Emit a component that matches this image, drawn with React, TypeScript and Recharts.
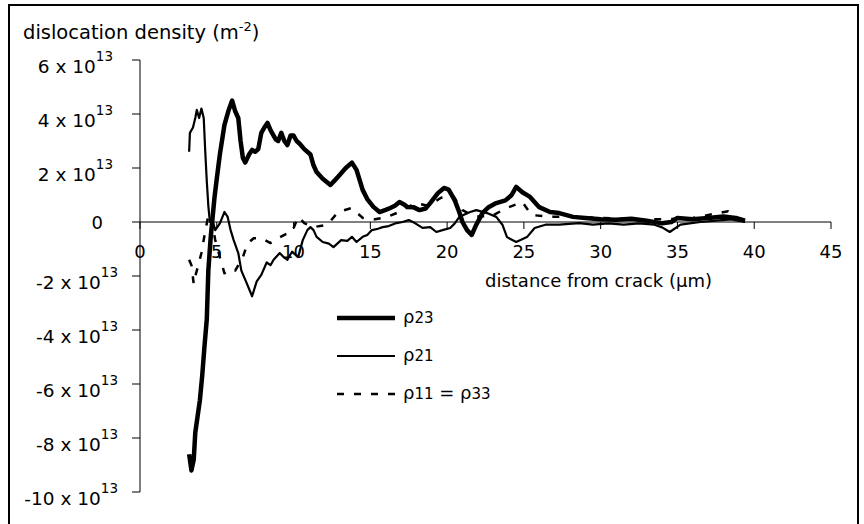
import React from 'react';
import { LineChart, Line, XAxis, YAxis, ReferenceLine, ReferenceDot } from 'recharts';

// distance from crack (µm), dislocation density (×10^13 m^-2)
const rho23: [number, number][] = [
  [3.2, -8.6], [3.35, -9.2], [3.5, -8.8], [3.6, -7.8], [3.75, -7.2], [3.9, -6.6], [4.05, -5.7],
  [4.2, -4.6], [4.35, -3.6], [4.45, -1.8], [4.6, -0.6], [4.7, 0], [4.85, 0.9], [5.0, 1.6],
  [5.2, 2.5], [5.5, 3.6], [5.75, 4.1], [6.0, 4.5], [6.2, 4.1], [6.4, 3.85], [6.55, 3.0],
  [6.7, 2.37], [6.85, 2.2], [7.1, 2.5], [7.3, 2.67], [7.5, 2.6], [7.7, 2.7], [7.9, 3.3],
  [8.1, 3.5], [8.3, 3.67], [8.5, 3.4], [8.7, 3.2], [8.85, 3.05], [9.0, 3.0], [9.2, 3.3],
  [9.4, 3.0], [9.6, 2.85], [9.8, 3.2], [10.0, 3.2], [10.2, 3.0], [10.4, 2.9], [10.7, 2.7],
  [11.1, 2.5], [11.3, 2.1], [11.5, 1.85], [11.9, 1.6], [12.4, 1.37], [12.7, 1.55], [13.0, 1.74],
  [13.4, 2.0], [13.8, 2.2], [14.1, 1.93], [14.5, 1.19], [14.8, 0.85], [15.2, 0.56], [15.6, 0.37],
  [16.0, 0.45], [16.3, 0.52], [16.6, 0.6], [16.9, 0.74], [17.2, 0.65], [17.4, 0.56], [17.8, 0.55],
  [18.2, 0.44], [18.6, 0.5], [18.9, 0.7], [19.4, 1.07], [19.8, 1.26], [20.1, 1.2], [20.5, 0.8],
  [20.8, 0.35], [21.0, 0], [21.3, -0.3], [21.6, -0.48], [21.9, -0.1], [22.3, 0.33], [22.7, 0.55],
  [23.2, 0.7], [23.8, 0.8], [24.2, 1.0], [24.5, 1.3], [24.9, 1.1], [25.4, 0.93], [26.0, 0.55],
  [26.7, 0.37], [27.3, 0.33], [28.2, 0.19], [29, 0.15], [30, 0.1], [31, 0.08], [32, 0.12],
  [33, 0.05], [34, -0.05], [34.6, 0.0], [35, 0.15], [36, 0.1], [37, 0.15], [38, 0.2],
  [38.8, 0.15], [39.4, 0.05],
];

const rho21: [number, number][] = [
  [3.2, 2.6], [3.25, 3.3], [3.45, 3.5], [3.6, 3.85], [3.7, 4.15], [3.85, 3.85], [4.0, 4.2],
  [4.15, 3.85], [4.25, 2.6], [4.35, 1.5], [4.45, 0.6], [4.55, 0.0], [4.7, 0.1], [4.9, -0.3],
  [5.2, -0.05], [5.5, 0.37], [5.7, 0.2], [5.9, -0.3], [6.1, -0.67], [6.4, -1.15], [6.6, -1.8],
  [6.9, -2.2], [7.3, -2.75], [7.6, -2.2], [7.9, -1.96], [8.25, -1.5], [8.5, -1.6], [8.7, -1.4],
  [9.1, -1.15], [9.35, -1.3], [9.6, -1.4], [9.9, -1.1], [10.3, -1.3], [10.6, -0.67], [10.9, -0.3],
  [11.1, -0.19], [11.3, -0.3], [11.5, -0.55], [11.9, -0.74], [12.3, -0.8], [12.6, -0.93],
  [13.1, -0.67], [13.5, -0.7], [13.8, -0.55], [14.1, -0.74], [14.5, -0.55], [14.8, -0.48],
  [15.1, -0.3], [15.5, -0.25], [15.8, -0.19], [16.2, -0.15], [16.7, -0.04], [17.1, 0.0],
  [17.5, 0.07], [17.9, -0.04], [18.4, -0.22], [18.9, -0.19], [19.3, -0.37], [19.7, -0.3],
  [20.2, -0.22], [20.5, -0.05], [20.8, 0.19], [21.5, 0.37], [21.9, 0.44], [22.6, 0.33],
  [23.2, 0.19], [23.6, -0.1], [23.9, -0.56], [24.5, -0.74], [25.2, -0.56], [25.7, -0.22],
  [26.4, -0.1], [27.3, -0.1], [28.6, -0.04], [29.5, -0.1], [30.5, -0.05], [31.5, -0.1],
  [32.5, -0.05], [33.5, -0.1], [34.0, -0.2], [34.5, -0.37], [35.2, -0.1], [36.5, 0.0],
  [37.5, 0.05], [38.5, 0.1], [39.4, 0.0],
];

const rho11: [number, number][] = [
  [3.2, -1.4], [3.35, -1.6], [3.5, -2.3], [3.65, -1.9], [3.8, -1.6], [4.0, -1.15], [4.2, -0.5],
  [4.4, 0.1], [4.6, 0.3], [4.9, -0.67], [5.2, -1.3], [5.5, -1.9], [5.9, -1.75], [6.2, -1.8],
  [6.7, -1.3], [7.0, -0.8], [7.4, -0.6], [7.9, -0.6], [8.5, -0.78], [9.0, -0.6], [9.5, -0.45],
  [9.9, -0.37], [10.3, 0.19], [10.7, -0.04], [11.3, -0.19], [12.2, -0.1], [12.9, 0.37],
  [13.8, 0.52], [14.5, 0.15], [15.3, 0.1], [16.1, 0.19], [17.0, 0.4], [17.9, 0.7], [18.8, 0.6],
  [19.6, 0.9], [20.4, 0.96], [21.0, 0.44], [21.8, 0.2], [22.9, 0.22], [23.8, 0.5], [24.9, 0.74],
  [25.5, 0.26], [26.7, 0.19], [28, 0.2], [30, 0.15], [32, 0.1], [34, 0.1], [36, 0.15],
  [38.3, 0.4], [39.0, 0.1],
];

const xTicks = [0, 5, 10, 15, 20, 25, 30, 35, 40, 45];
const yTicks = [-10, -8, -6, -4, -2, 0, 2, 4, 6];

const FONT = '"DejaVu Sans", sans-serif';

const toData = (pts: [number, number][]) => pts.map(([x, y]) => ({ x, y }));

const series = [
  { key: 'rho23', label: ['ρ', '23'], data: toData(rho23), width: 4.5, dash: undefined as string | undefined },
  { key: 'rho21', label: ['ρ', '21'], data: toData(rho21), width: 2.2, dash: undefined as string | undefined },
  { key: 'rho11', label: ['ρ', '11', ' = ', 'ρ', '33'], data: toData(rho11), width: 2.5, dash: '7 10' },
];

const YTick = (props: any) => {
  const { x, y, payload } = props;
  const v = payload.value;
  if (v === 0) {
    return (
      <text x={x - 15} y={y + 6.5} textAnchor="end" fontSize={18} fontFamily={FONT} fill="#000">0</text>
    );
  }
  const end = v > 0 ? x - 5 : x;
  return (
    <text x={end} y={y + 12.5} textAnchor="end" fontSize={18.5} fontFamily={FONT} fill="#000">
      <tspan>{`${v} x 10`}</tspan>
      <tspan dy={-12} fontSize={13.5}>13</tspan>
    </text>
  );
};

const makeXTick = (v: number) => (p: any) => {
  const { cx, cy } = p;
  return (
    <g>
      <line x1={cx} y1={cy} x2={cx} y2={cy + 7} stroke="#000" strokeWidth={1} />
      <text x={cx} y={cy + 36} textAnchor="middle" fontSize={18} fontFamily={FONT} fill="#000">{v}</text>
    </g>
  );
};

const LegendBox = () => (
  <svg width={220} height={110} style={{ display: 'block' }}>
    {series.map((s, i) => {
      const ry = 18 + i * 38;
      return (
        <g key={s.key}>
          <line x1={7} y1={ry} x2={65} y2={ry} stroke="#000" strokeWidth={s.width} strokeDasharray={s.dash} />
          <text x={73} y={ry + 5} fontFamily={FONT} fill="#000">
            {s.label.map((t, j) => (
              <tspan key={j} fontSize={t === 'ρ' || t === ' = ' ? 18 : 15}>{t}</tspan>
            ))}
          </text>
        </g>
      );
    })}
  </svg>
);

export default function App() {
  return (
    <div style={{ position: 'fixed', left: 0, top: 0, width: 864, height: 524, background: '#fff', overflow: 'hidden' }}>
      <div style={{ position: 'absolute', left: 0, top: 0 }}>
        <LineChart width={864} height={524} margin={{ top: 60, right: 33, bottom: 32, left: 40 }}>
          <XAxis type="number" dataKey="x" domain={[0, 45]} ticks={xTicks} hide allowDataOverflow />
          <YAxis
            type="number"
            domain={[-10, 6]}
            ticks={yTicks}
            width={100}
            tickSize={8}
            tickMargin={14}
            axisLine={{ stroke: '#000', strokeWidth: 1 }}
            tickLine={{ stroke: '#000', strokeWidth: 1 }}
            tick={<YTick />}
            allowDataOverflow
          />
          <ReferenceLine y={0} stroke="#000" strokeWidth={1} />
          {xTicks.map((v) => (
            <ReferenceDot key={v} x={v} y={0} r={0} shape={makeXTick(v)} ifOverflow="visible" />
          ))}
          {series.map((s) => (
            <Line
              key={s.key}
              data={s.data}
              dataKey="y"
              type="linear"
              stroke="#000"
              strokeWidth={s.width}
              strokeDasharray={s.dash}
              strokeLinejoin="round"
              dot={false}
              activeDot={false}
              isAnimationActive={false}
            />
          ))}
        </LineChart>
      </div>
      <div style={{ position: 'absolute', left: 330, top: 300 }}>
        <LegendBox />
      </div>
      <div style={{ position: 'absolute', left: 23, top: 23, fontFamily: FONT, fontSize: 19.5, lineHeight: '20px', color: '#000', whiteSpace: 'nowrap' }}>
        dislocation density (m<span style={{ fontSize: 13, position: 'relative', top: -8 }}>-2</span>)
      </div>
      <div style={{ position: 'absolute', left: 485, top: 271, fontFamily: FONT, fontSize: 18, lineHeight: '20px', color: '#000', whiteSpace: 'nowrap' }}>
        distance from crack (µm)
      </div>
      <div style={{ position: 'absolute', left: 8, top: 4, width: 851, height: 530, border: '2px solid #000', boxSizing: 'border-box', pointerEvents: 'none' }} />
    </div>
  );
}
